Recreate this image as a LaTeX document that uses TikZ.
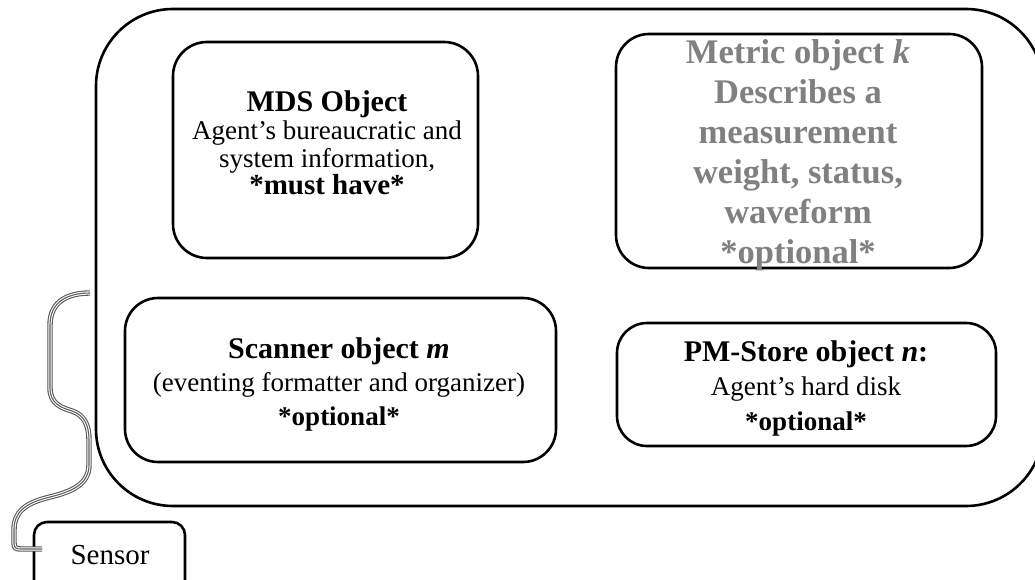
\documentclass[tikz,border=0pt]{standalone}
\usepackage{fontspec}
\setmainfont{Liberation Serif}
\definecolor{metricgray}{HTML}{808080}
\newcommand{\objtitle}[1]{{\fontsize{30}{30}\selectfont\bfseries #1}}
\begin{document}
\begin{tikzpicture}[x=1pt,y=-1pt,
  objbox/.style={draw, line width=2.6pt, rounded corners=34pt, inner sep=0pt, fill=none},
  objtext/.style={align=center, inner sep=0pt, font=\fontsize{27}{27.7}\selectfont},
  cable/.style={line width=5.4pt, draw=gray!70!black,
    postaction={draw=white, line width=3.2pt},
    postaction={draw=gray!75!black, line width=1.1pt}}]
\useasboundingbox (0,0) rectangle (1035,580);
\clip (0,0) rectangle (1035,580);
% outer agent box
\node[objbox, rounded corners=77pt, minimum width=947pt, minimum height=497pt] (agent) at (569.5,257.5) {};
% MDS
\node[objbox, minimum width=305pt, minimum height=216pt] (mds) at (325.5,150) {};
\node[objtext] (mdsText) at (327,143) {\objtitle{MDS Object}\\Agent’s bureaucratic and\\system information,\\{\fontsize{29}{29}\selectfont\bfseries *must have*}};
% Metric
\node[objbox, rounded corners=33pt, minimum width=366pt, minimum height=234pt] (metric) at (799,151) {};
\node[objtext, text=metricgray, font=\fontsize{34.5}{40}\selectfont\bfseries] (metricText) at (798,155) {Metric object \textit{k}\\Describes a\\measurement\\weight, status,\\waveform\\*optional*};
% Scanner
\node[objbox, rounded corners=33pt, minimum width=431pt, minimum height=164pt] (scanner) at (340.5,380) {};
\node[objtext, font=\fontsize{27}{33.5}\selectfont] (scannerText) at (339,384) {\objtitle{Scanner object \textit{m}}\\(eventing formatter and organizer)\\\textbf{*optional*}};
% PM-Store
\node[objbox, rounded corners=30pt, minimum width=379pt, minimum height=123pt] (pmstore) at (806.5,384.5) {};
\node[objtext, font=\fontsize{27}{34.5}\selectfont] (pmText) at (806,388) {\objtitle{PM-Store object \textit{n}:}\\Agent’s hard disk\\\textbf{*optional*}};
% Sensor
\node[objbox, rounded corners=13pt, minimum width=151pt, minimum height=80pt] (sensor) at (109.5,562) {};
\node[objtext, font=\fontsize{29}{30}\selectfont] (sensorText) at (110,555) {Sensor};
% cable
\coordinate (cableTop) at (90,293);
\coordinate (cableEnd) at (42,549);
\draw[cable] (cableTop) .. controls (70,293) and (50,300) .. (50,325) -- (50,388)
  .. controls (50,404) and (62,408) .. (72,411)
  .. controls (84,415) and (89,425) .. (89,440) -- (89,465)
  .. controls (89,485) and (70,492) .. (50,497)
  .. controls (25,503) and (14,512) .. (14,530) -- (14,543)
  .. controls (14,548) and (16,549) .. (21,549) -- (cableEnd);
\end{tikzpicture}
\end{document}
